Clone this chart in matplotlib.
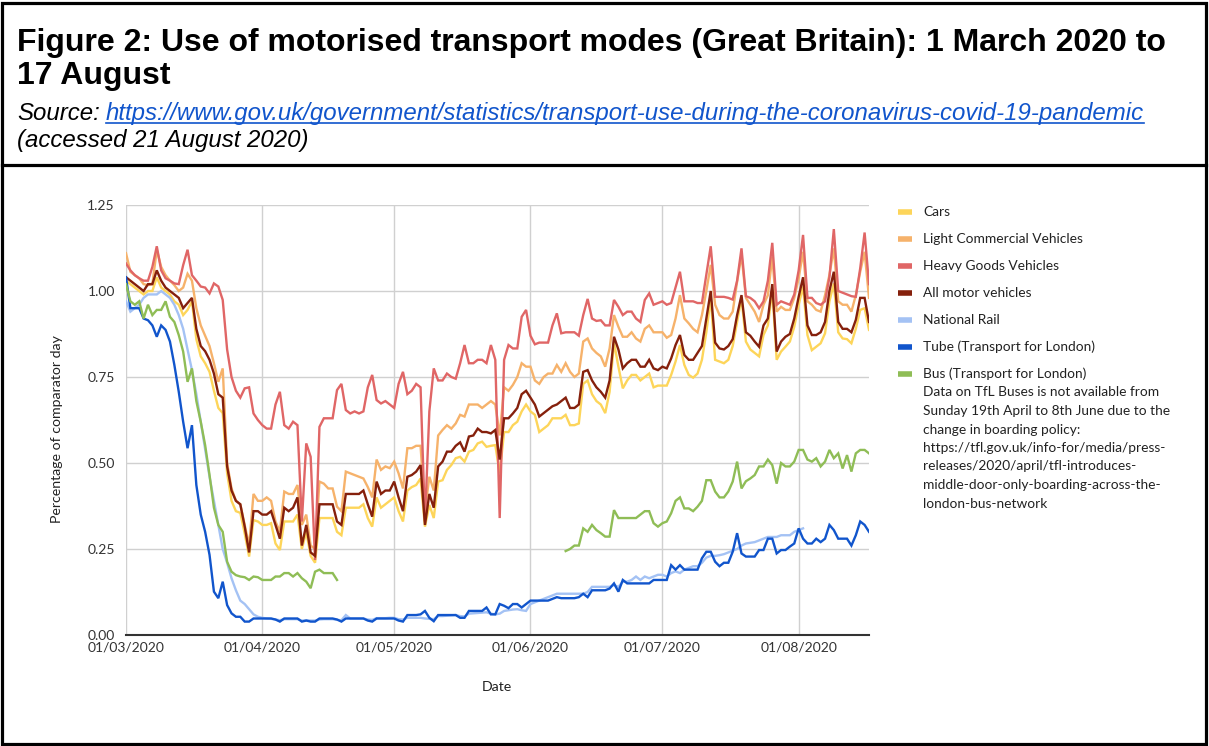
import numpy as np
import pandas as pd
import matplotlib
matplotlib.use("Agg")
import matplotlib.pyplot as plt
import matplotlib.dates as mdates
from matplotlib.lines import Line2D
from matplotlib.patches import Rectangle

# ---------------- data (daily, 1 March 2020 .. 17 August 2020) ----------------
start_date = "2020-03-01"
n_days = 170
N = None

cars = [
    1.03, 1.02, 1.01, 1.00, 0.99, 1.00, 1.00,
    1.04, 1.01, 1.00, 0.99, 0.97, 0.96, 0.93,
    0.945, 0.97, 0.86, 0.81, 0.79, 0.765, 0.71,
    0.66, 0.645, 0.47, 0.39, 0.36, 0.355, 0.295,
    0.228, 0.334, 0.33, 0.32, 0.32, 0.325, 0.266,
    0.247, 0.33, 0.33, 0.33, 0.35, 0.25, 0.30,
    0.23, 0.21, 0.34, 0.34, 0.34, 0.34, 0.30,
    0.29, 0.37, 0.37, 0.37, 0.37, 0.38, 0.34,
    0.315, 0.40, 0.37, 0.38, 0.39, 0.40, 0.36,
    0.33, 0.42, 0.43, 0.436, 0.455, 0.315, 0.378,
    0.34, 0.446, 0.45, 0.48, 0.494, 0.514, 0.518,
    0.504, 0.533, 0.538, 0.557, 0.562, 0.547, 0.55,
    0.552, 0.47, 0.59, 0.59, 0.61, 0.62, 0.65,
    0.67, 0.65, 0.64, 0.59, 0.60, 0.61, 0.63,
    0.63, 0.63, 0.64, 0.61, 0.61, 0.615, 0.73,
    0.74, 0.70, 0.68, 0.67, 0.645, 0.707, 0.85,
    0.78, 0.717, 0.74, 0.756, 0.756, 0.74, 0.75,
    0.76, 0.72, 0.725, 0.725, 0.725, 0.756, 0.795,
    0.843, 0.785, 0.756, 0.748, 0.76, 0.80, 0.88,
    0.98, 0.80, 0.795, 0.79, 0.80, 0.84, 0.91,
    0.98, 0.853, 0.83, 0.82, 0.81, 0.872, 0.90,
    1.003, 0.80, 0.824, 0.838, 0.853, 0.896, 0.96,
    1.013, 0.872, 0.828, 0.838, 0.848, 0.877, 0.97,
    1.022, 0.88, 0.862, 0.86, 0.848, 0.89, 0.945,
    0.95, 0.887,
]

lcv = [
    1.11, 1.056, 1.046, 1.037, 1.02, 1.017, 1.02,
    1.12, 1.07, 1.046, 1.03, 1.017, 1.0, 1.01,
    1.05, 1.03, 0.95, 0.90, 0.87, 0.84, 0.79,
    0.736, 0.775, 0.50, 0.426, 0.39, 0.38, 0.32,
    0.26, 0.41, 0.39, 0.39, 0.40, 0.39, 0.33,
    0.30, 0.417, 0.41, 0.41, 0.436, 0.32, 0.35,
    0.26, 0.25, 0.446, 0.44, 0.426, 0.426, 0.373,
    0.36, 0.475, 0.47, 0.465, 0.46, 0.455, 0.43,
    0.40, 0.51, 0.48, 0.49, 0.485, 0.504, 0.47,
    0.426, 0.543, 0.543, 0.55, 0.55, 0.36, 0.46,
    0.42, 0.58, 0.596, 0.61, 0.60, 0.615, 0.64,
    0.635, 0.67, 0.67, 0.67, 0.66, 0.67, 0.68,
    0.67, 0.58, 0.72, 0.71, 0.727, 0.75, 0.79,
    0.78, 0.78, 0.74, 0.73, 0.75, 0.76, 0.76,
    0.785, 0.765, 0.79, 0.765, 0.75, 0.76, 0.853,
    0.862, 0.833, 0.82, 0.81, 0.78, 0.833, 0.93,
    0.896, 0.867, 0.867, 0.88, 0.862, 0.853, 0.89,
    0.90, 0.88, 0.88, 0.88, 0.864, 0.872, 0.92,
    0.988, 0.92, 0.906, 0.89, 0.88, 0.93, 1.0,
    1.076, 0.96, 0.93, 0.92, 0.92, 0.94, 1.027,
    1.105, 0.98, 0.96, 0.94, 0.91, 0.96, 0.988,
    1.10, 0.94, 0.954, 0.945, 0.945, 0.98, 1.037,
    1.114, 0.97, 0.96, 0.945, 0.94, 0.988, 1.047,
    1.124, 0.97, 0.96, 0.96, 0.94, 0.988, 1.056,
    1.114, 0.98,
]

hgv = [
    1.08, 1.06, 1.046, 1.037, 1.03, 1.03, 1.07,
    1.13, 1.06, 1.037, 1.03, 1.022, 1.02, 1.075,
    1.12, 1.046, 1.03, 1.013, 1.01, 0.993, 1.022,
    1.013, 0.974, 0.83, 0.75, 0.71, 0.69, 0.717,
    0.72, 0.644, 0.625, 0.61, 0.60, 0.60, 0.67,
    0.707, 0.61, 0.60, 0.62, 0.61, 0.33, 0.557,
    0.518, 0.218, 0.605, 0.63, 0.63, 0.63, 0.712,
    0.73, 0.654, 0.644, 0.65, 0.644, 0.65, 0.72,
    0.756, 0.683, 0.673, 0.68, 0.67, 0.66, 0.73,
    0.765, 0.70, 0.71, 0.73, 0.72, 0.33, 0.65,
    0.775, 0.74, 0.74, 0.76, 0.75, 0.745, 0.79,
    0.843, 0.79, 0.79, 0.80, 0.80, 0.79, 0.843,
    0.80, 0.34, 0.80, 0.843, 0.833, 0.833, 0.925,
    0.945, 0.87, 0.845, 0.85, 0.85, 0.85, 0.90,
    0.935, 0.877, 0.88, 0.88, 0.88, 0.87, 0.93,
    0.977, 0.92, 0.913, 0.915, 0.90, 0.90, 0.974,
    0.954, 0.93, 0.94, 0.94, 0.92, 0.91, 0.974,
    0.993, 0.96, 0.965, 0.97, 0.96, 0.965, 1.01,
    1.056, 0.97, 0.97, 0.97, 0.965, 0.965, 1.047,
    1.13, 0.983, 0.983, 0.983, 0.98, 0.975, 1.03,
    1.124, 0.985, 0.98, 0.97, 0.95, 0.97, 1.03,
    1.14, 0.96, 0.97, 0.965, 0.96, 0.99, 1.06,
    1.163, 0.98, 0.98, 0.965, 0.96, 0.97, 1.04,
    1.18, 1.0, 0.995, 0.99, 0.985, 0.983, 1.066,
    1.17, 1.02,
]

all_motor = [
    1.04, 1.03, 1.02, 1.01, 1.0, 1.02, 1.02,
    1.06, 1.03, 1.01, 1.0, 0.99, 0.98, 0.95,
    0.965, 0.98, 0.89, 0.84, 0.825, 0.80, 0.76,
    0.70, 0.69, 0.49, 0.42, 0.39, 0.38, 0.315,
    0.24, 0.36, 0.36, 0.35, 0.35, 0.36, 0.32,
    0.28, 0.37, 0.36, 0.37, 0.40, 0.26, 0.32,
    0.24, 0.23, 0.38, 0.38, 0.38, 0.38, 0.33,
    0.32, 0.41, 0.41, 0.41, 0.41, 0.42, 0.38,
    0.344, 0.446, 0.41, 0.42, 0.42, 0.446, 0.40,
    0.36, 0.46, 0.465, 0.475, 0.494, 0.32, 0.41,
    0.37, 0.49, 0.504, 0.533, 0.533, 0.55, 0.56,
    0.533, 0.577, 0.58, 0.60, 0.59, 0.59, 0.586,
    0.596, 0.51, 0.63, 0.63, 0.644, 0.66, 0.70,
    0.71, 0.69, 0.67, 0.635, 0.645, 0.655, 0.665,
    0.67, 0.68, 0.69, 0.66, 0.66, 0.67, 0.765,
    0.77, 0.74, 0.72, 0.707, 0.69, 0.74, 0.867,
    0.83, 0.775, 0.79, 0.80, 0.80, 0.78, 0.78,
    0.80, 0.775, 0.77, 0.78, 0.775, 0.804, 0.843,
    0.872, 0.814, 0.80, 0.80, 0.82, 0.84, 0.92,
    1.0, 0.85, 0.833, 0.83, 0.84, 0.86, 0.93,
    0.988, 0.88, 0.87, 0.853, 0.838, 0.90, 0.92,
    1.02, 0.824, 0.853, 0.867, 0.875, 0.92, 0.983,
    1.04, 0.90, 0.872, 0.872, 0.88, 0.91, 1.0,
    1.056, 0.91, 0.89, 0.89, 0.88, 0.916, 0.98,
    0.98, 0.91,
]

national_rail = [
    0.97, 0.94, 0.95, 0.96, 0.98, 0.99, 0.99,
    0.99, 1.0, 0.99, 0.98, 0.96, 0.93, 0.89,
    0.83, 0.77, 0.70, 0.62, 0.54, 0.46, 0.39,
    0.32, 0.25, 0.21, 0.165, 0.13, 0.10, 0.09,
    0.075, 0.06, 0.053, 0.05, 0.048, 0.047, 0.045,
    0.043, 0.046, 0.046, 0.046, 0.046, 0.042, 0.043,
    0.042, 0.042, 0.045, 0.046, 0.046, 0.046, 0.044,
    0.043, 0.058, 0.048, 0.048, 0.048, 0.048, 0.045,
    0.044, 0.049, 0.049, 0.049, 0.05, 0.05, 0.046,
    0.045, 0.05, 0.05, 0.05, 0.05, 0.048, 0.047,
    0.046, 0.055, 0.055, 0.056, 0.057, 0.058, 0.055,
    0.054, 0.062, 0.063, 0.064, 0.065, 0.066, 0.062,
    0.06, 0.062, 0.07, 0.072, 0.074, 0.075, 0.072,
    0.07, 0.09, 0.095, 0.10, 0.105, 0.11, 0.115,
    0.12, 0.12, 0.12, 0.12, 0.12, 0.12, 0.12,
    0.125, 0.14, 0.14, 0.14, 0.14, 0.14, 0.145,
    0.14, 0.155, 0.155, 0.16, 0.17, 0.16, 0.17,
    0.165, 0.17, 0.175, 0.175, 0.17, 0.18, 0.185,
    0.18, 0.19, 0.195, 0.20, 0.20, 0.21, 0.225,
    0.23, 0.23, 0.232, 0.235, 0.24, 0.245, 0.25,
    0.26, 0.266, 0.268, 0.27, 0.275, 0.28, 0.285,
    0.285, 0.285, 0.29, 0.29, 0.29, 0.30, 0.305,
    0.31, N, N, N, N, N, N,
    N, N, N, N, N, N, N,
    N, N,
]

tube = [
    1.04, 0.95, 0.95, 0.95, 0.92, 0.915, 0.90,
    0.867, 0.90, 0.887, 0.853, 0.785, 0.707, 0.62,
    0.543, 0.61, 0.436, 0.35, 0.30, 0.233, 0.126,
    0.107, 0.155, 0.087, 0.063, 0.053, 0.053, 0.039,
    0.039, 0.048, 0.048, 0.048, 0.048, 0.048, 0.045,
    0.039, 0.048, 0.048, 0.048, 0.048, 0.039, 0.042,
    0.039, 0.039, 0.048, 0.048, 0.048, 0.048, 0.045,
    0.039, 0.048, 0.048, 0.048, 0.048, 0.048, 0.042,
    0.039, 0.048, 0.048, 0.048, 0.048, 0.048, 0.042,
    0.039, 0.058, 0.058, 0.058, 0.06, 0.07, 0.05,
    0.04, 0.058, 0.058, 0.058, 0.058, 0.058, 0.05,
    0.05, 0.07, 0.07, 0.07, 0.07, 0.08, 0.06,
    0.06, 0.09, 0.085, 0.078, 0.09, 0.09, 0.08,
    0.09, 0.10, 0.10, 0.10, 0.10, 0.10, 0.105,
    0.11, 0.107, 0.107, 0.107, 0.107, 0.11, 0.12,
    0.11, 0.13, 0.13, 0.13, 0.13, 0.135, 0.15,
    0.126, 0.16, 0.15, 0.15, 0.15, 0.15, 0.15,
    0.15, 0.16, 0.16, 0.16, 0.16, 0.203, 0.19,
    0.203, 0.19, 0.19, 0.19, 0.19, 0.223, 0.242,
    0.242, 0.213, 0.20, 0.21, 0.21, 0.242, 0.296,
    0.237, 0.228, 0.228, 0.228, 0.247, 0.247, 0.28,
    0.28, 0.237, 0.247, 0.247, 0.257, 0.266, 0.31,
    0.28, 0.266, 0.266, 0.28, 0.27, 0.28, 0.32,
    0.305, 0.28, 0.28, 0.28, 0.26, 0.29, 0.33,
    0.32, 0.30,
]

bus = [
    1.02, 0.97, 0.96, 0.97, 0.92, 0.96, 0.93,
    0.945, 0.945, 0.97, 0.925, 0.91, 0.872, 0.824,
    0.736, 0.775, 0.68, 0.62, 0.552, 0.465, 0.37,
    0.32, 0.30, 0.213, 0.184, 0.174, 0.17, 0.168,
    0.16, 0.17, 0.168, 0.16, 0.16, 0.16, 0.17,
    0.17, 0.18, 0.18, 0.17, 0.18, 0.165, 0.155,
    0.136, 0.184, 0.19, 0.18, 0.18, 0.18, 0.16,
    N, N, N, N, N, N, N,
    N, N, N, N, N, N, N,
    N, N, N, N, N, N, N,
    N, N, N, N, N, N, N,
    N, N, N, N, N, N, N,
    N, N, N, N, N, N, N,
    N, N, N, N, N, N, N,
    N, N, 0.244, 0.25, 0.26, 0.26, 0.31,
    0.30, 0.32, 0.305, 0.296, 0.286, 0.286, 0.363,
    0.34, 0.34, 0.34, 0.34, 0.34, 0.35, 0.36,
    0.36, 0.325, 0.315, 0.325, 0.33, 0.354, 0.39,
    0.40, 0.368, 0.368, 0.36, 0.373, 0.39, 0.45,
    0.45, 0.417, 0.40, 0.40, 0.417, 0.446, 0.504,
    0.426, 0.447, 0.455, 0.465, 0.49, 0.49, 0.51,
    0.494, 0.44, 0.50, 0.49, 0.49, 0.504, 0.538,
    0.538, 0.51, 0.504, 0.514, 0.49, 0.504, 0.538,
    0.514, 0.528, 0.484, 0.523, 0.475, 0.528, 0.538,
    0.538, 0.528,
]

series_names = [
    "Cars",
    "Light Commercial Vehicles",
    "Heavy Goods Vehicles",
    "All motor vehicles",
    "National Rail",
    "Tube (Transport for London)",
    "Bus (Transport for London)",
]
series_values = [cars, lcv, hgv, all_motor, national_rail, tube, bus]
series_colors = ["#fdd55a", "#f6b26b", "#e06666", "#85200c",
                 "#a4c2f4", "#1155cc", "#8fbd56"]

y_ticks = [0.0, 0.25, 0.5, 0.75, 1.0, 1.25]
x_tick_dates = ["2020-03-01", "2020-04-01", "2020-05-01",
                "2020-06-01", "2020-07-01", "2020-08-01"]

title_line1 = "Figure 2: Use of motorised transport modes (Great Britain): 1 March 2020 to"
title_line2 = "17 August"
source_label = "Source:"
source_link = "https://www.gov.uk/government/statistics/transport-use-during-the-coronavirus-covid-19-pandemic"
accessed_text = "(accessed 21 August 2020)"
note_lines = [
    "Data on TfL Buses is not available from",
    "Sunday 19th April to 8th June due to the",
    "change in boarding policy:",
    "https://tfl.gov.uk/info-for/media/press-",
    "releases/2020/april/tfl-introduces-",
    "middle-door-only-boarding-across-the-",
    "london-bus-network",
]

# ---------------- figure ----------------
W, H = 1209, 746
fig = plt.figure(figsize=(W / 100, H / 100), dpi=100)
fig.patch.set_facecolor("white")


def fx(px):
    return px / W


def fy(py):
    return 1 - py / H


head_font = "Liberation Sans"
chart_font = "Lato"

# frame
fig.add_artist(Rectangle((fx(2), fy(744)), fx(1206) - fx(2), fy(3) - fy(744),
                         transform=fig.transFigure, fill=False, lw=2.3, ec="black"))
fig.add_artist(Line2D([fx(2), fx(1206)], [fy(165), fy(165)],
                      transform=fig.transFigure, lw=2.3, color="black"))

# header text
fig.text(fx(17), fy(51), title_line1, fontsize=23, fontweight="bold",
         family=head_font, va="baseline", ha="left")
fig.text(fx(17), fy(84), title_line2, fontsize=23, fontweight="bold",
         family=head_font, va="baseline", ha="left")
fig.text(fx(17), fy(120), source_label, fontsize=17.3, style="italic",
         family=head_font, va="baseline", ha="left")
link = fig.text(fx(106), fy(120), source_link, fontsize=17.3, style="italic",
                family=head_font, va="baseline", ha="left", color="#1155cc")
fig.text(fx(17), fy(147), accessed_text, fontsize=17.3, style="italic",
         family=head_font, va="baseline", ha="left")

renderer = fig.canvas.get_renderer()
bb = link.get_window_extent(renderer)
fig.add_artist(Line2D([bb.x0 / W, bb.x1 / W], [fy(123), fy(123)],
                      transform=fig.transFigure, lw=1.2, color="#1155cc"))

# ---------------- chart ----------------
dates = pd.date_range(start_date, periods=n_days, freq="D")
ax = fig.add_axes([fx(126), fy(635), fx(869) - fx(126), fy(205) - fy(635)])

for name, vals, col in zip(series_names, series_values, series_colors):
    arr = np.array([np.nan if v is None else v for v in vals], dtype=float)
    ax.plot(dates, arr, color=col, lw=1.7, solid_joinstyle="miter", label=name)

ax.set_xlim(dates[0], dates[-1])
ax.set_ylim(0, 1.25)
ax.set_yticks(y_ticks)
ax.set_yticklabels([f"{v:.2f}" for v in y_ticks])
ax.set_xticks(pd.to_datetime(x_tick_dates))
ax.xaxis.set_major_formatter(mdates.DateFormatter("%d/%m/%Y"))
ax.grid(True, color="#d0d0d0", lw=1.0)
ax.set_axisbelow(True)
for s in ["left", "top", "right"]:
    ax.spines[s].set_visible(False)
ax.spines["bottom"].set_color("#333333")
ax.spines["bottom"].set_linewidth(1.5)
ax.tick_params(length=0, labelsize=10, labelcolor="#333333", pad=8)
for lab in ax.get_xticklabels() + ax.get_yticklabels():
    lab.set_family(chart_font)
ax.tick_params(axis="x", pad=5)

fig.text(fx(57), fy(429), "Percentage of comparator day", rotation=90,
         ha="center", va="center", fontsize=10.2, family=chart_font, color="#222222")
fig.text(fx(497), fy(687), "Date", ha="center", va="center",
         fontsize=10.2, family=chart_font, color="#222222")

# ---------------- legend (manual) ----------------
legend_y = [211.5, 239, 266, 293, 320, 347, 374]
for name, col, yy in zip(series_names, series_colors, legend_y):
    fig.add_artist(Line2D([fx(898), fx(912)], [fy(yy), fy(yy)],
                          transform=fig.transFigure, lw=4, color=col,
                          solid_capstyle="butt"))
    fig.text(fx(923), fy(yy), name, ha="left", va="center", fontsize=9.9,
             family=chart_font, color="#222222")
for i, line in enumerate(note_lines):
    fig.text(fx(923), fy(392.5 + i * 18.5), line, ha="left", va="center",
             fontsize=9.9, family=chart_font, color="#222222")

fig.savefig("out.png", dpi=100)
